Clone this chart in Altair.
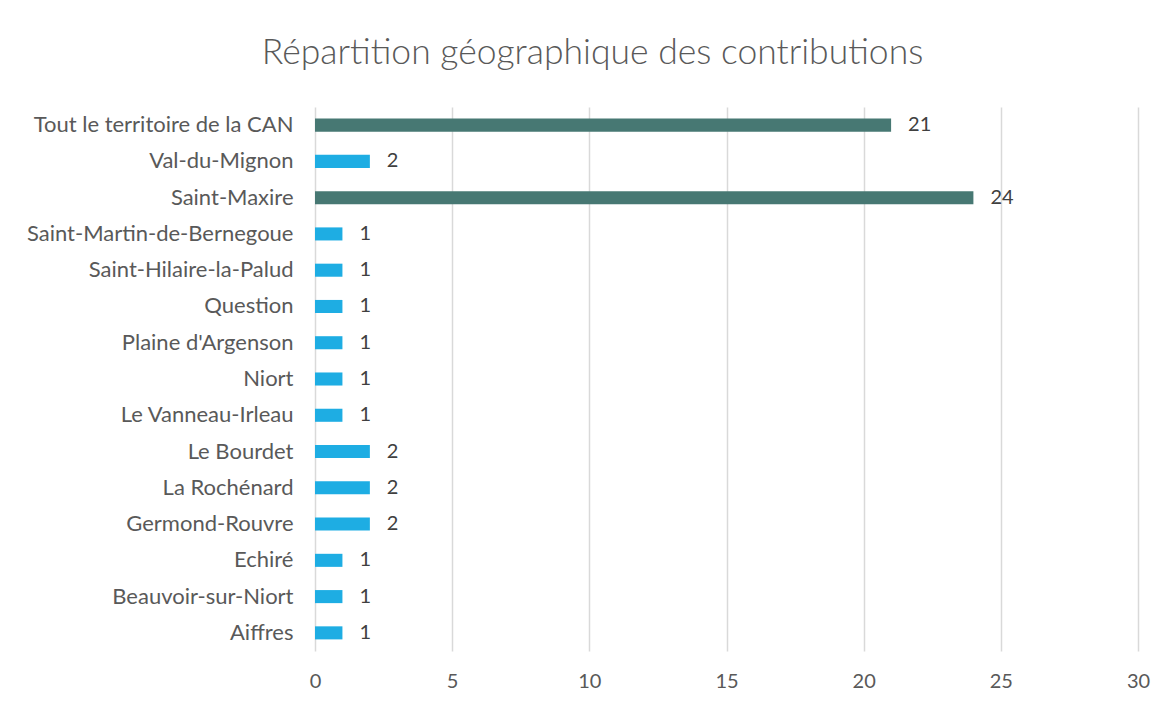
import altair as alt
import pandas as pd

communes = [
    "Tout le territoire de la CAN",
    "Val-du-Mignon",
    "Saint-Maxire",
    "Saint-Martin-de-Bernegoue",
    "Saint-Hilaire-la-Palud",
    "Question",
    "Plaine d'Argenson",
    "Niort",
    "Le Vanneau-Irleau",
    "Le Bourdet",
    "La Rochénard",
    "Germond-Rouvre",
    "Echiré",
    "Beauvoir-sur-Niort",
    "Aiffres",
]
contributions = [21, 2, 24, 1, 1, 1, 1, 1, 1, 2, 2, 2, 1, 1, 1]
groupes = ["large", "small", "large"] + ["small"] * 12

df = pd.DataFrame({"commune": communes, "n": contributions, "groupe": groupes})

FONT = "Lato"
GREY = "#595959"

base = alt.Chart(df).encode(
    y=alt.Y(
        "commune:N",
        sort=communes,
        title=None,
        scale=alt.Scale(paddingInner=0.64, paddingOuter=0.32),
        axis=alt.Axis(
            labelFontSize=22,
            labelColor=GREY,
            labelFont=FONT,
            labelPadding=22,
            labelLimit=400,
            ticks=False,
            domain=False,
            grid=False,
        ),
    ),
    x=alt.X(
        "n:Q",
        title=None,
        scale=alt.Scale(domain=[0, 30], nice=False),
        axis=alt.Axis(
            values=[0, 5, 10, 15, 20, 25, 30],
            labelFontSize=20,
            labelColor=GREY,
            labelFont=FONT,
            labelPadding=20,
            labelFlush=False,
            ticks=False,
            domain=False,
            grid=True,
            gridColor="#d9d9d9",
            gridWidth=1.5,
        ),
    ),
)

bars = base.mark_bar().encode(
    color=alt.Color(
        "groupe:N",
        scale=alt.Scale(domain=["large", "small"], range=["#477873", "#1EADE3"]),
        legend=None,
    )
)

labels = base.mark_text(
    align="left", baseline="middle", dx=17, fontSize=20, font=FONT, color="#404040"
).encode(text="n:Q")

chart = (
    (bars + labels)
    .properties(
        width=823,
        height=544,
        padding={"left": 307, "top": 99, "right": 25, "bottom": 50},
        autosize=alt.AutoSizeParams(type="none"),
        title=alt.TitleParams(
            "Répartition géographique des contributions",
            fontSize=35.5,
            font=FONT,
            fontWeight=300,
            color=GREY,
            anchor="middle",
            dx=-134,
            offset=36,
        ),
    )
    .configure_view(stroke=None)
)

chart.save("out.html", embed_options={"renderer": "svg", "actions": False})
